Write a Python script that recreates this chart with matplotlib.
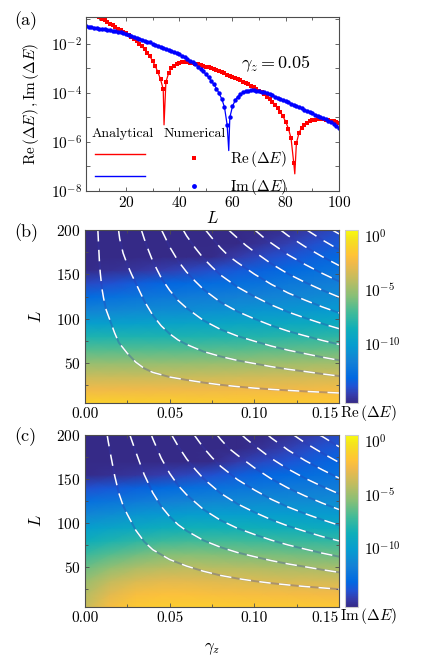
import numpy as np
import matplotlib
matplotlib.use('Agg')
import matplotlib.pyplot as plt
from matplotlib.colors import LinearSegmentedColormap, Normalize
from matplotlib.lines import Line2D
from matplotlib.ticker import FixedLocator, FuncFormatter, NullLocator, MultipleLocator

plt.rcParams.update({'font.family': 'serif', 'font.serif': ['cmr10'],
                     'mathtext.fontset': 'cm', 'axes.formatter.use_mathtext': True,
                     'font.size': 11})

# ---------------- panel (a) data : log10 values ----------------
L_num = list(range(5, 101))
re_num = [-0.55, -0.62, -0.69, -0.76, -0.83, -0.90, -0.97, -1.04, -1.10, -1.17,
          -1.24, -1.30, -1.37, -1.43, -1.50, -1.57, -1.64, -1.72, -1.80, -1.89,
          -1.99, -2.10, -2.22, -2.36, -2.51, -2.69, -2.90, -3.15, -3.45, -3.85,
          -3.55, -3.20, -3.00, -2.88, -2.81, -2.77, -2.75, -2.74, -2.75, -2.76,
          -2.78, -2.80, -2.83, -2.86, -2.89, -2.92, -2.95, -2.99, -3.03, -3.07,
          -3.11, -3.15, -3.20, -3.25, -3.29, -3.34, -3.39, -3.44, -3.49, -3.54,
          -3.59, -3.65, -3.71, -3.77, -3.84, -3.91, -3.98, -4.06, -4.15, -4.25,
          -4.35, -4.48, -4.62, -4.78, -4.96, -5.18, -5.45, -5.85, -6.85, -6.05,
          -5.62, -5.42, -5.30, -5.22, -5.16, -5.12, -5.09, -5.07, -5.07, -5.08,
          -5.09, -5.11, -5.13, -5.16, -5.19, -5.22]
im_num = [-1.27, -1.29, -1.31, -1.33, -1.35, -1.37, -1.39, -1.41, -1.43, -1.45,
          -1.47, -1.49, -1.51, -1.53, -1.555, -1.58, -1.62, -1.66, -1.70, -1.74,
          -1.78, -1.82, -1.86, -1.90, -1.94, -1.99, -2.03, -2.07, -2.11, -2.15,
          -2.19, -2.24, -2.29, -2.33, -2.38, -2.43, -2.49, -2.55, -2.61, -2.68,
          -2.75, -2.83, -2.92, -3.02, -3.12, -3.23, -3.36, -3.50, -3.65, -3.82,
          -4.02, -4.25, -4.58, -5.30, -5.00, -4.55, -4.30, -4.15, -4.05, -3.98,
          -3.93, -3.90, -3.89, -3.89, -3.90, -3.92, -3.95, -3.98, -4.02, -4.06,
          -4.10, -4.15, -4.19, -4.24, -4.28, -4.33, -4.38, -4.43, -4.48, -4.53,
          -4.58, -4.63, -4.68, -4.73, -4.78, -4.83, -4.88, -4.93, -4.98, -5.03,
          -5.08, -5.13, -5.19, -5.26, -5.34, -5.42]
re_zero_L = [34.3, 83.4]
re_zero_val = [-5.3, -7.3]
im_zero_L = [58.6]
im_zero_val = [-6.35]

# ---------------- panels (b),(c) : log10 maps on a coarse grid ----------------
gamma_grid = [0.0, 0.015, 0.03, 0.045, 0.06, 0.075, 0.09, 0.105, 0.12, 0.135, 0.15]
L_grid = [5, 20, 35, 50, 65, 80, 95, 110, 125, 140, 155, 170, 185, 200]
re_map = [
    [-1.1, -1.1, -1.15, -1.2, -1.25, -1.3, -1.35, -1.4, -1.45, -1.5, -1.6],
    [-2.5, -2.5, -2.5, -2.5, -2.5, -2.5, -2.45, -2.4, -2.4, -2.35, -2.3],
    [-3.8, -3.8, -3.8, -3.8, -3.8, -3.75, -3.7, -3.65, -3.6, -3.55, -3.5],
    [-5.2, -5.2, -5.2, -5.2, -5.2, -5.15, -5.1, -5.0, -4.95, -4.9, -4.85],
    [-6.7, -6.7, -6.7, -6.7, -6.7, -6.65, -6.6, -6.5, -6.45, -6.4, -6.3],
    [-8.2, -8.2, -8.2, -8.2, -8.2, -8.15, -8.1, -8.0, -7.9, -7.8, -7.7],
    [-10.0, -9.9, -9.8, -9.7, -9.6, -9.5, -9.4, -9.3, -9.2, -9.1, -9.0],
    [-11.6, -11.4, -11.2, -11.1, -11.0, -10.9, -10.7, -10.6, -10.5, -10.4, -10.2],
    [-13.0, -12.7, -12.4, -12.2, -12.0, -11.9, -11.7, -11.6, -11.4, -11.2, -11.0],
    [-14.3, -14.0, -13.6, -13.3, -13.1, -12.9, -12.7, -12.5, -12.2, -12.0, -11.8],
    [-15.4, -15.2, -15.0, -14.7, -14.4, -14.1, -13.7, -13.4, -13.1, -12.8, -12.5],
    [-16, -16, -16, -16, -15.8, -15.4, -14.8, -14.3, -13.9, -13.5, -13.1],
    [-16, -16, -16, -16, -16, -16, -15.6, -15.1, -14.6, -14.1, -13.7],
    [-16, -16, -16, -16, -16, -16, -16, -15.8, -15.2, -14.7, -14.2]]
im_map = [
    [-3.9, -2.2, -1.5, -1.3, -1.3, -1.3, -1.35, -1.4, -1.45, -1.5, -1.55],
    [-4.4, -3.0, -2.2, -2.0, -2.0, -2.1, -2.2, -2.25, -2.3, -2.35, -2.4],
    [-5.1, -4.0, -3.3, -3.0, -3.0, -3.1, -3.2, -3.3, -3.4, -3.45, -3.5],
    [-6.2, -5.3, -4.6, -4.3, -4.2, -4.3, -4.4, -4.5, -4.6, -4.7, -4.8],
    [-7.4, -6.7, -6.1, -5.7, -5.6, -5.7, -5.8, -5.9, -6.0, -6.1, -6.2],
    [-8.7, -8.2, -7.7, -7.3, -7.1, -7.1, -7.2, -7.3, -7.4, -7.5, -7.6],
    [-10.0, -9.6, -9.2, -8.8, -8.6, -8.6, -8.6, -8.7, -8.8, -8.9, -9.0],
    [-11.4, -11.0, -10.6, -10.3, -10.1, -10.0, -10.0, -10.0, -10.1, -10.1, -10.2],
    [-12.7, -12.4, -12.1, -11.8, -11.5, -11.3, -11.2, -11.1, -11.1, -11.1, -11.1],
    [-14.0, -13.7, -13.4, -13.1, -12.8, -12.6, -12.4, -12.2, -12.1, -12.0, -11.9],
    [-15.4, -15.2, -15.0, -14.7, -14.4, -14.0, -13.6, -13.3, -13.0, -12.8, -12.6],
    [-16, -16, -16, -16, -15.8, -15.4, -14.8, -14.3, -13.9, -13.5, -13.2],
    [-16, -16, -16, -16, -16, -16, -15.6, -15.1, -14.6, -14.1, -13.7],
    [-16, -16, -16, -16, -16, -16, -16, -15.8, -15.2, -14.7, -14.2]]

# analytical zero lines (gamma_z, L)
re_curves = [
    ([0.0076, 0.0079, 0.0085, 0.009, 0.010, 0.011, 0.0125, 0.015, 0.0175, 0.020, 0.025, 0.030, 0.035,
      0.040, 0.050, 0.060, 0.070, 0.080, 0.090, 0.100, 0.110, 0.120, 0.130, 0.140, 0.150],
     [200, 188, 165, 152, 134, 123, 110, 97, 84, 73, 61, 51, 44, 39.5, 34.3, 31, 28, 25.5, 23.5,
      21.8, 20.4, 19.2, 18.1, 17.2, 16.3]),
    ([0.0198, 0.0205, 0.0225, 0.025, 0.0275, 0.030, 0.0325, 0.035, 0.040, 0.045, 0.050, 0.055, 0.060,
      0.070, 0.080, 0.090, 0.100, 0.110, 0.120, 0.130, 0.140, 0.150],
     [200, 190, 174, 161, 150, 140, 130, 120, 104, 92, 83, 76, 71, 63, 57.5, 53, 49.5, 46, 43, 40.5,
      37.8, 35.4]),
    ([0.0333, 0.035, 0.0375, 0.040, 0.045, 0.050, 0.055, 0.060, 0.070, 0.080, 0.090, 0.100, 0.110,
      0.120, 0.130, 0.140, 0.150],
     [200, 190, 177, 165, 146, 132, 120.5, 112, 98, 88, 80.5, 74.7, 69.2, 64.5, 60.6, 56.7, 53.2]),
    ([0.0452, 0.0475, 0.050, 0.055, 0.060, 0.065, 0.070, 0.080, 0.090, 0.100, 0.110, 0.120, 0.130,
      0.140, 0.150],
     [200, 191, 181, 165, 152.6, 142.4, 133, 118.7, 108.2, 99.9, 92.4, 86, 80.7, 75.6, 71]),
    ([0.058, 0.060, 0.065, 0.070, 0.075, 0.080, 0.090, 0.100, 0.110, 0.120, 0.130, 0.140, 0.150],
     [200, 193.4, 180, 168, 158.3, 149.3, 135.8, 125.1, 115.6, 107.5, 100.8, 94.5, 88.8]),
    ([0.0712, 0.075, 0.080, 0.085, 0.090, 0.100, 0.110, 0.120, 0.130, 0.140, 0.150],
     [200, 191, 179.9, 170.4, 163.4, 150.3, 138.8, 129, 120.9, 113.4, 106.6]),
    ([0.0848, 0.090, 0.095, 0.100, 0.110, 0.120, 0.130, 0.140, 0.150],
     [200, 191, 182.7, 175.5, 162, 150.5, 141, 132.3, 124.4]),
    ([0.1003, 0.105, 0.110, 0.120, 0.130, 0.140, 0.150],
     [200, 192.3, 185.2, 172, 161.1, 151.2, 142.2]),
    ([0.1155, 0.120, 0.130, 0.140, 0.150], [200, 193.5, 181.2, 170.1, 160]),
    ([0.131, 0.140, 0.150], [200, 189, 177.8]),
    ([0.146, 0.150], [200, 195.6]),
]
im_curves = [
    ([0.0131, 0.0135, 0.015, 0.0175, 0.020, 0.0225, 0.025, 0.030, 0.035, 0.040, 0.050, 0.060, 0.070,
      0.080, 0.090, 0.100, 0.110, 0.120, 0.130, 0.140, 0.150],
     [200, 195, 179, 154, 134, 120, 110, 92, 79, 70, 58.8, 51.4, 45.5, 40.8, 37.3, 34.4, 32, 30,
      28.2, 26.7, 25.2]),
    ([0.0265, 0.0275, 0.030, 0.0325, 0.035, 0.040, 0.045, 0.050, 0.055, 0.060, 0.070, 0.080, 0.090,
      0.100, 0.110, 0.120, 0.130, 0.140, 0.150],
     [200, 194.5, 180.8, 167.7, 155, 134.6, 119.2, 107.5, 98.3, 91.4, 80.5, 72.8, 66.8, 62.1, 57.6,
      53.8, 50.6, 47.3, 44.3]),
    ([0.0392, 0.040, 0.045, 0.050, 0.055, 0.060, 0.070, 0.080, 0.090, 0.100, 0.110, 0.120, 0.130,
      0.140, 0.150],
     [200, 195.9, 173.7, 156.5, 142.8, 132.3, 115.5, 103.4, 94.3, 87.3, 80.8, 75.3, 70.6, 66.1, 62.1]),
    ([0.0512, 0.055, 0.060, 0.065, 0.070, 0.080, 0.090, 0.100, 0.110, 0.120, 0.130, 0.140, 0.150],
     [200, 187.4, 173, 161.2, 150.5, 134.1, 121.9, 112.5, 104, 96.8, 90.7, 84.9, 79.9]),
    ([0.0645, 0.070, 0.075, 0.080, 0.090, 0.100, 0.110, 0.120, 0.130, 0.140, 0.150],
     [200, 185.5, 174.5, 164.7, 149.5, 137.7, 127.1, 118.3, 110.8, 104, 97.7]),
    ([0.078, 0.080, 0.085, 0.090, 0.100, 0.110, 0.120, 0.130, 0.140, 0.150],
     [200, 195.3, 184.8, 177.2, 162.9, 150.3, 139.8, 130.9, 122.9, 115.5]),
    ([0.0927, 0.095, 0.100, 0.110, 0.120, 0.130, 0.140, 0.150],
     [200, 195.9, 188.1, 173.5, 161.3, 150.9, 141.8, 133.3]),
    ([0.108, 0.110, 0.120, 0.130, 0.140, 0.150], [200, 196.7, 182.8, 171, 160.7, 151.1]),
    ([0.1232, 0.130, 0.140, 0.150], [200, 191.1, 179.6, 168.9]),
    ([0.1383, 0.140, 0.150], [200, 198.5, 186.7]),
]

# parula-like colormap
parula = LinearSegmentedColormap.from_list('parula', [
    (0.000, (0.2081, 0.1663, 0.5292)), (0.048, (0.2081, 0.2386, 0.6771)),
    (0.095, (0.1253, 0.3242, 0.8303)), (0.143, (0.0060, 0.4086, 0.8828)),
    (0.238, (0.0779, 0.5040, 0.8384)), (0.333, (0.0265, 0.6137, 0.8135)),
    (0.429, (0.0590, 0.6838, 0.7254)), (0.524, (0.2586, 0.7317, 0.5954)),
    (0.619, (0.5300, 0.7491, 0.4661)), (0.714, (0.7525, 0.7384, 0.3768)),
    (0.810, (0.9450, 0.7261, 0.2886)), (0.857, (0.9990, 0.7653, 0.2164)),
    (0.905, (0.9789, 0.8271, 0.1633)), (0.952, (0.9588, 0.8949, 0.1132)),
    (1.000, (0.9763, 0.9831, 0.0538))])
norm = Normalize(vmin=-15.5, vmax=0.55)

W, H = 436, 663
fig = plt.figure(figsize=(W / 100, H / 100), dpi=100)

def box(l, t, r, b):
    return [l / W, 1 - b / H, (r - l) / W, (b - t) / H]

def style(ax):
    for s in ax.spines.values():
        s.set_color('0.3')
        s.set_linewidth(0.8)
    ax.tick_params(which='both', direction='in', top=True, right=True, color='0.3',
                   width=0.6, labelsize=11, pad=3)
    ax.tick_params(which='major', length=3)
    ax.tick_params(which='minor', length=2)

# ---------------- (a) ----------------
ax = fig.add_axes(box(86, 17, 339, 191))
Lr = np.array(L_num + re_zero_L)
vr = np.array(re_num + re_zero_val)
o = np.argsort(Lr)
ax.plot(Lr[o], 10.0 ** vr[o], color='red', lw=0.9)
Li = np.array(L_num + im_zero_L)
vi = np.array(im_num + im_zero_val)
o = np.argsort(Li)
ax.plot(Li[o], 10.0 ** vi[o], color='blue', lw=0.9)
ax.plot(L_num, 10.0 ** np.array(re_num), ls='none', marker='s', ms=3.0, color='red', mew=0)
ax.plot(L_num, 10.0 ** np.array(im_num), ls='none', marker='o', ms=3.2, color='blue', mew=0)
ax.set_yscale('log')
ax.set_xlim(5, 100)
ax.set_ylim(1e-8, 10 ** -0.9)
ax.yaxis.set_major_locator(FixedLocator(10.0 ** np.arange(-8, 0)))
ax.yaxis.set_minor_locator(NullLocator())
ax.yaxis.set_major_formatter(FuncFormatter(
    lambda v, p: r'$10^{%d}$' % round(np.log10(v)) if round(np.log10(v)) % 2 == 0 else ''))
ax.set_xticks([20, 40, 60, 80, 100])
ax.xaxis.set_minor_locator(MultipleLocator(10))
style(ax)
ax.set_xlabel(r'$L$', fontsize=12, labelpad=0)
ax.set_ylabel(r'$\mathrm{Re}\,(\Delta E)\,,\mathrm{Im}\,(\Delta E)$', fontsize=11, labelpad=7)
ax.text(0.75, 0.73, r'$\gamma_z=0.05$', transform=ax.transAxes, fontsize=13, ha='center', va='center')

h_re = Line2D([], [], color='red', lw=1.0)
h_im = Line2D([], [], color='blue', lw=1.0)
leg1 = ax.legend([h_re, h_im], ['', ''], title='Analytical', loc='upper left',
                 bbox_to_anchor=(0.02, 0.36), frameon=False, fontsize=11, title_fontsize=10,
                 handlelength=3.3, handletextpad=0.3, labelspacing=0.55, borderpad=0,
                 borderaxespad=0)
ax.add_artist(leg1)
m_re = Line2D([], [], ls='none', marker='s', ms=3.5, color='red', mew=0)
m_im = Line2D([], [], ls='none', marker='o', ms=3.5, color='blue', mew=0)
ax.legend([m_re, m_im], [r'$\mathrm{Re}\,(\Delta E)$', r'$\mathrm{Im}\,(\Delta E)$'],
          title='Numerical', alignment='left', loc='upper left', bbox_to_anchor=(0.305, 0.36),
          frameon=False, fontsize=11, title_fontsize=10, handlelength=4.0, handletextpad=0.4,
          labelspacing=0.55, borderpad=0, borderaxespad=0)

# ---------------- (b), (c) ----------------
def heat(axbox, cbox, grid, curves, name):
    ax = fig.add_axes(axbox)
    cax = fig.add_axes(cbox)
    m = ax.pcolormesh(gamma_grid, L_grid, np.array(grid), shading='gouraud', cmap=parula,
                      norm=norm, rasterized=True)
    for g, l in curves:
        ax.plot(g, l, color='#3436b0', lw=1.4, alpha=0.3)
        ax.plot(g, l, color='white', lw=1.1, ls=(0, (7.5, 5.5)))
    ax.set_xlim(0, 0.15)
    ax.set_ylim(5, 200)
    ax.set_xticks([0, 0.05, 0.1, 0.15])
    ax.set_xticklabels(['0.00', '0.05', '0.10', '0.15'])
    ax.get_xticklabels()[-1].set_horizontalalignment('right')
    ax.xaxis.set_minor_locator(MultipleLocator(0.025))
    ax.set_yticks([50, 100, 150, 200])
    ax.yaxis.set_minor_locator(MultipleLocator(25))
    style(ax)
    ax.set_ylabel(r'$L$', fontsize=12, labelpad=9)
    cb = fig.colorbar(m, cax=cax, ticks=[0, -5, -10])
    cb.ax.set_yticklabels([r'$10^{0}$', r'$10^{-5}$', r'$10^{-10}$'])
    cb.ax.tick_params(labelsize=11, length=0, pad=4)
    cb.outline.set_edgecolor('0.8')
    cax.text(-0.38, -0.055, name, transform=cax.transAxes, ha='left', va='center', fontsize=11)
    return ax

heat(box(85, 230, 339, 403), box(345, 230, 358, 403), re_map, re_curves, r'$\mathrm{Re}\,(\Delta E)$')
axc = heat(box(85, 435, 339, 607), box(345, 435, 358, 607), im_map, im_curves,
           r'$\mathrm{Im}\,(\Delta E)$')
axc.set_xlabel(r'$\gamma_z$', fontsize=12, labelpad=11)

for lab, y in [('(a)', 21), ('(b)', 233), ('(c)', 437)]:
    fig.text(14 / W, 1 - y / H, lab, fontsize=13, ha='left', va='center')

fig.savefig('out.png', dpi=100)
